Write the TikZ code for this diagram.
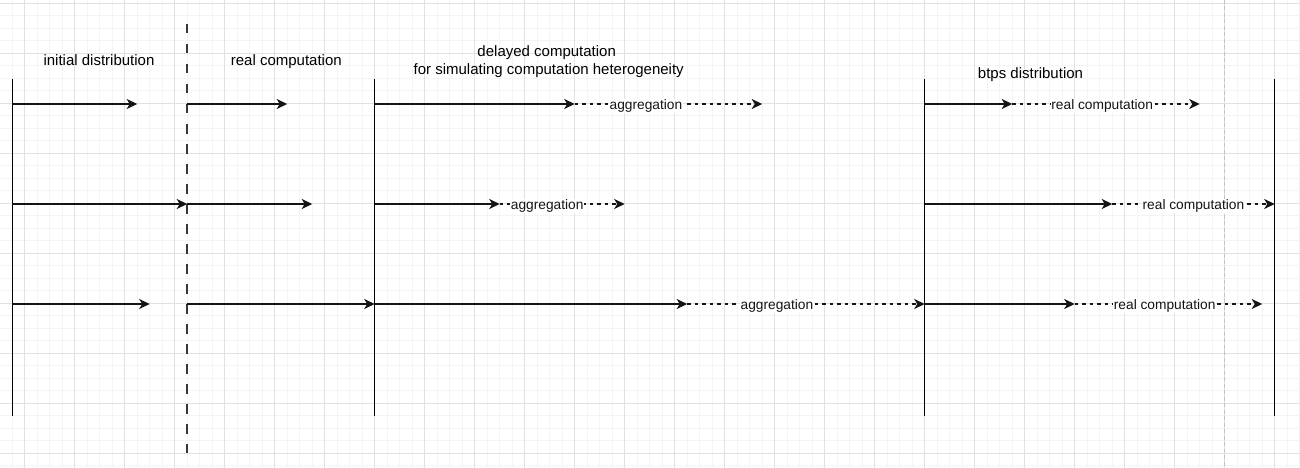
\documentclass[tikz,border=0pt]{standalone}
\usepackage{fontspec}
\setmainfont{Liberation Sans}
\usetikzlibrary{arrows.meta}
\definecolor{gridminor}{RGB}{244,244,244}
\definecolor{gridmajor}{RGB}{225,225,225}
\definecolor{pagebrk}{RGB}{195,195,195}
\definecolor{ink}{RGB}{20,20,20}
\begin{document}
\begin{tikzpicture}[x=1pt,y=-1pt,
  gridmin/.style={gridminor, line width=1pt},
  gridmaj/.style={gridmajor, line width=1pt},
  pageline/.style={pagebrk, line width=1pt, dash pattern=on 4pt off 2.5pt},
  lifeline/.style={black, line width=1.3pt},
  barrier/.style={ink!85, line width=2pt, dash pattern=on 9.5pt off 10.5pt},
  msg/.style={ink, line width=1.4pt, -{Stealth[length=10.5pt,width=10pt,inset=3pt]}},
  dmsg/.style={msg, dash pattern=on 3.75pt off 3.75pt},
  hdr/.style={font=\fontsize{15pt}{18pt}\selectfont, inner sep=0pt, anchor=base},
  elbl/.style={font=\fontsize{13.75pt}{16pt}\selectfont, fill=white, inner xsep=0.5pt, inner ysep=1pt, anchor=base, yshift=-5.6pt}
]
\useasboundingbox[fill=white] (0,0) rectangle (1300,468);
% background grid
\foreach \i in {0,...,104} \draw[gridmin] (-0.3+12.5*\i,0) -- (-0.3+12.5*\i,468);
\foreach \j in {0,...,37} \draw[gridmin] (0,3.3+12.5*\j) -- (1300,3.3+12.5*\j);
\foreach \i in {0,...,25} \draw[gridmaj] (24.7+50*\i,0) -- (24.7+50*\i,468);
\foreach \j in {0,...,9} \draw[gridmaj] (0,3.3+50*\j) -- (1300,3.3+50*\j);
\coordinate (pgtop) at (1224.7,0);
\coordinate (pgbot) at (1224.7,468);
\draw[pageline] (pgtop) -- (pgbot);

% headers
\node[hdr] (hInit) at (99,66) {initial distribution};
\node[hdr] (hReal) at (286.3,66) {real computation};
\node[hdr] (hDelayA) at (546.7,56.5) {delayed computation};
\node[hdr] (hDelayB) at (548.7,74.5) {for simulating computation heterogeneity};
\node[hdr] (hBtps) at (1030.5,78.5) {btps distribution};

% vertical lines
\coordinate (L1t) at (12.2,79);   \coordinate (L1b) at (12.2,416);
\coordinate (Bt)  at (187.2,24);  \coordinate (Bb)  at (187.2,453.3);
\coordinate (L3t) at (374.7,79);  \coordinate (L3b) at (374.7,416);
\coordinate (L4t) at (924.7,79);  \coordinate (L4b) at (924.7,416);
\coordinate (L5t) at (1274.7,79); \coordinate (L5b) at (1274.7,416);
\draw[lifeline] (L1t) -- (L1b);
\draw[barrier] (Bt) -- (Bb);
\draw[lifeline] (L3t) -- (L3b);
\draw[lifeline] (L4t) -- (L4b);
\draw[lifeline] (L5t) -- (L5b);

% row 1
\coordinate (a0) at (12.2,104);  \coordinate (a1) at (137.2,104);
\coordinate (a2) at (187.2,104); \coordinate (a3) at (287.2,104);
\coordinate (a4) at (374.7,104); \coordinate (a5) at (574.7,104); \coordinate (a6) at (762.2,104);
\coordinate (a7) at (924.7,104); \coordinate (a8) at (1012.2,104); \coordinate (a9) at (1199.7,104);
\draw[msg] (a0) -- (a1);
\draw[msg] (a2) -- (a3);
\draw[msg] (a4) -- (a5);
\draw[dmsg] (a5) -- node[elbl,pos=0.38] (ag1) {aggregation} (a6);
\draw[msg] (a7) -- (a8);
\draw[dmsg] (a8) -- node[elbl,pos=0.48] (rc1) {real computation} (a9);

% row 2
\coordinate (b0) at (12.2,204);  \coordinate (b1) at (187.2,204);
\coordinate (b2) at (187.2,204); \coordinate (b3) at (312.2,204);
\coordinate (b4) at (374.7,204); \coordinate (b5) at (499.7,204); \coordinate (b6) at (624.7,204);
\coordinate (b7) at (924.7,204); \coordinate (b8) at (1112.2,204); \coordinate (b9) at (1274.7,204);
\draw[msg] (b0) -- (b1);
\draw[msg] (b2) -- (b3);
\draw[msg] (b4) -- (b5);
\draw[dmsg] (b5) -- node[elbl,pos=0.38] (ag2) {aggregation} (b6);
\draw[msg] (b7) -- (b8);
\draw[dmsg] (b8) -- node[elbl,pos=0.5] (rc2) {real computation} (b9);

% row 3
\coordinate (c0) at (12.2,304);  \coordinate (c1) at (149.7,304);
\coordinate (c2) at (187.2,304); \coordinate (c3) at (374.7,304);
\coordinate (c4) at (374.7,304); \coordinate (c5) at (687.2,304); \coordinate (c6) at (924.7,304);
\coordinate (c7) at (924.7,304); \coordinate (c8) at (1074.7,304); \coordinate (c9) at (1262.2,304);
\draw[msg] (c0) -- (c1);
\draw[msg] (c2) -- (c3);
\draw[msg] (c4) -- (c5);
\draw[dmsg] (c5) -- node[elbl,pos=0.378] (ag3) {aggregation} (c6);
\draw[msg] (c7) -- (c8);
\draw[dmsg] (c8) -- node[elbl,pos=0.48] (rc3) {real computation} (c9);
\end{tikzpicture}
\end{document}
